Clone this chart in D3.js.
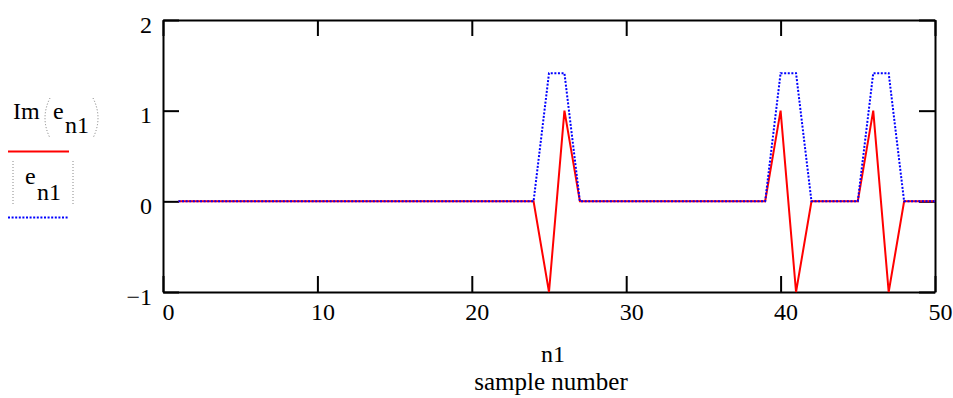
<!DOCTYPE html>
<html>
<head>
	<meta charset="utf-8">
	<title>Im(e) and |e| vs sample number</title>
	<script src="https://cdn.jsdelivr.net/npm/d3@7"></script>
	<style>
		body { margin: 0; background: #fff; }
		.axis path, .axis line { stroke: #000; stroke-width: 2; }
	</style>
</head>
<body>
	<div id="chart"></div>
	<script type="text/javascript">

		// sample numbers n1
		var n1 = [ 1, 2, 3, 4, 5, 6, 7, 8, 9, 10,
			11, 12, 13, 14, 15, 16, 17, 18, 19, 20,
			21, 22, 23, 24, 25, 26, 27, 28, 29, 30,
			31, 32, 33, 34, 35, 36, 37, 38, 39, 40,
			41, 42, 43, 44, 45, 46, 47, 48, 49, 50 ];

		// Im(e_n1) - red solid
		var imE = [ 0, 0, 0, 0, 0, 0, 0, 0, 0, 0,
			0, 0, 0, 0, 0, 0, 0, 0, 0, 0,
			0, 0, 0, 0, -1, 1, 0, 0, 0, 0,
			0, 0, 0, 0, 0, 0, 0, 0, 0, 1,
			-1, 0, 0, 0, 0, 1, -1, 0, 0, 0 ];

		// |e_n1| - blue dotted
		var absE = [ 0, 0, 0, 0, 0, 0, 0, 0, 0, 0,
			0, 0, 0, 0, 0, 0, 0, 0, 0, 0,
			0, 0, 0, 0, 1.414, 1.414, 0, 0, 0, 0,
			0, 0, 0, 0, 0, 0, 0, 0, 0, 1.414,
			1.414, 0, 0, 0, 0, 1.414, 1.414, 0, 0, 0 ];

		var xTicks = [ 0, 10, 20, 30, 40, 50 ];
		var yTicks = [ -1, 0, 1, 2 ];

		var serif = "Liberation Serif";
		var w = 953;
		var h = 398;

		var svg = d3.select("div#chart")
			.append("svg")
			.attr("width", w)
			.attr("height", h);

		var x = d3.scaleLinear().domain([0, 50]).range([163, 935]);
		var y = d3.scaleLinear().domain([-1, 2]).range([292, 20]);
		var fmt = d3.format("d");

		//bottom axis with labels, ticks pointing inside
		var bottom = svg.append("g")
			.attr("class", "axis")
			.attr("transform", "translate(0," + y(-1) + ")")
			.call(d3.axisBottom(x).tickValues(xTicks).tickSizeInner(-16).tickSizeOuter(0).tickFormat(fmt));
		bottom.selectAll("text")
			.attr("x", 5)
			.attr("y", 28)
			.attr("dy", null)
			.attr("fill", "#000")
			.style("font-family", serif)
			.style("font-size", "24px");

		//top axis, ticks only
		svg.append("g")
			.attr("class", "axis")
			.attr("transform", "translate(0," + y(2) + ")")
			.call(d3.axisTop(x).tickValues(xTicks).tickSizeInner(-16).tickSizeOuter(0).tickFormat(""));

		//left axis with labels
		var left = svg.append("g")
			.attr("class", "axis")
			.attr("transform", "translate(" + x(0) + ",0)")
			.call(d3.axisLeft(y).tickValues(yTicks).tickSizeInner(-16).tickSizeOuter(0).tickFormat(fmt));
		left.selectAll("text")
			.attr("x", -11)
			.attr("y", 12)
			.attr("dy", null)
			.attr("fill", "#000")
			.style("font-family", serif)
			.style("font-size", "24px");

		//right axis, ticks only
		svg.append("g")
			.attr("class", "axis")
			.attr("transform", "translate(" + x(50) + ",0)")
			.call(d3.axisRight(y).tickValues(yTicks).tickSizeInner(-16).tickSizeOuter(0).tickFormat(""));

		//traces
		var line = d3.line()
			.x(function(d, i) { return x(n1[i]); })
			.y(function(d) { return y(d); });

		svg.append("path")
			.datum(imE)
			.attr("d", line)
			.attr("fill", "none")
			.attr("stroke", "#ff0000")
			.attr("stroke-width", 2);

		svg.append("path")
			.datum(absE)
			.attr("d", line)
			.attr("fill", "none")
			.attr("stroke", "#0000ff")
			.attr("stroke-width", 2)
			.attr("stroke-dasharray", "2,1.6");

		//plain text helper
		function label(sel, tx, ty, str, size) {
			return sel.append("text")
				.attr("x", tx)
				.attr("y", ty)
				.style("font-family", serif)
				.style("font-size", (size || 24) + "px")
				.text(str);
		}

		//axis title
		label(svg, 553, 362, "n1").attr("text-anchor", "middle");
		label(svg, 551, 390, "sample number", 25).attr("text-anchor", "middle");

		//legend: Im(e_n1) red
		var leg = svg.append("g");
		label(leg, 13, 119, "Im");
		label(leg, 53, 119, "e");
		label(leg, 65, 133, "n1");
		leg.append("path")
			.attr("d", "M50,98 Q40,118 50,138")
			.attr("fill", "none").attr("stroke", "#777").attr("stroke-width", 1)
			.attr("stroke-dasharray", "1,2");
		leg.append("path")
			.attr("d", "M93,98 Q103,118 93,138")
			.attr("fill", "none").attr("stroke", "#777").attr("stroke-width", 1)
			.attr("stroke-dasharray", "1,2");
		leg.append("line")
			.attr("x1", 8).attr("x2", 69).attr("y1", 151.5).attr("y2", 151.5)
			.attr("stroke", "#ff0000").attr("stroke-width", 2);

		//legend: e_n1 blue dotted
		leg.append("line")
			.attr("x1", 13).attr("x2", 13).attr("y1", 161).attr("y2", 204)
			.attr("stroke", "#888").attr("stroke-width", 1).attr("stroke-dasharray", "1,2");
		leg.append("line")
			.attr("x1", 73).attr("x2", 73).attr("y1", 161).attr("y2", 204)
			.attr("stroke", "#888").attr("stroke-width", 1).attr("stroke-dasharray", "1,2");
		label(leg, 25, 184, "e");
		label(leg, 37, 200, "n1");
		leg.append("line")
			.attr("x1", 8).attr("x2", 68).attr("y1", 217.5).attr("y2", 217.5)
			.attr("stroke", "#0000ff").attr("stroke-width", 2).attr("stroke-dasharray", "2,1.6");

    </script>
</body>
</html>
